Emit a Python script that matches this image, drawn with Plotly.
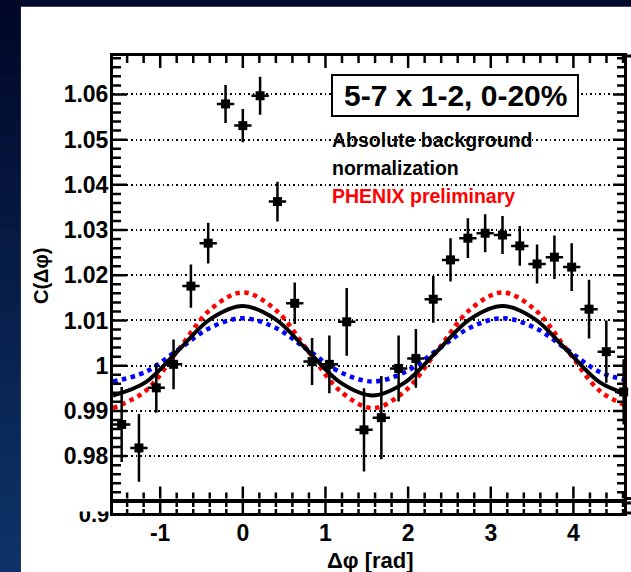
import plotly.graph_objects as go

W, H = 631, 572

# ---------------- data ----------------
dphi = [-1.466, -1.257, -1.047, -0.838, -0.628, -0.419, -0.209, 0.0, 0.209, 0.419,
        0.628, 0.838, 1.047, 1.257, 1.466, 1.676, 1.885, 2.094, 2.304, 2.513,
        2.723, 2.932, 3.142, 3.351, 3.560, 3.770, 3.979, 4.189, 4.398, 4.608]
corr = [0.9870, 0.9818, 0.9951, 1.0003, 1.0176, 1.0271, 1.0579, 1.0531, 1.0597, 1.0363,
        1.0138, 1.0009, 1.0003, 1.0097, 0.9858, 0.9885, 0.9994, 1.0016, 1.0147, 1.0234,
        1.0282, 1.0293, 1.0289, 1.0265, 1.0225, 1.0240, 1.0218, 1.0125, 1.0031, 0.9942]
corr_err = [0.0083, 0.0075, 0.0055, 0.0055, 0.0048, 0.0045, 0.0042, 0.0037, 0.0042, 0.0044,
            0.0046, 0.0052, 0.0064, 0.0075, 0.0092, 0.0092, 0.0073, 0.0065, 0.0052, 0.0048,
            0.0044, 0.0042, 0.0042, 0.0044, 0.0043, 0.0048, 0.0053, 0.0065, 0.0069, 0.0072]
bin_half_width = 0.105

curve_x = [-1.571, -1.178, -0.785, -0.393, 0.0, 0.393, 0.785, 1.178, 1.571,
           1.963, 2.356, 2.749, 3.142, 3.534, 3.927, 4.320, 4.712]
bkg_black = [0.9934, 0.9963, 1.0033, 1.0103, 1.0132, 1.0103, 1.0033, 0.9963, 0.9934,
             0.9963, 1.0033, 1.0103, 1.0132, 1.0103, 1.0033, 0.9963, 0.9934]
bkg_red = [0.9906, 0.9944, 1.0034, 1.0124, 1.0162, 1.0124, 1.0034, 0.9944, 0.9906,
           0.9944, 1.0034, 1.0124, 1.0162, 1.0124, 1.0034, 0.9944, 0.9906]
bkg_blue = [0.9965, 0.9986, 1.0035, 1.0084, 1.0105, 1.0084, 1.0035, 0.9986, 0.9965,
            0.9986, 1.0035, 1.0084, 1.0105, 1.0084, 1.0035, 0.9986, 0.9965]

y_tickvals = [0.98, 0.99, 1.00, 1.01, 1.02, 1.03, 1.04, 1.05, 1.06]
y_ticktext = ["0.98", "0.99", "1", "1.01", "1.02", "1.03", "1.04", "1.05", "1.06"]
x_tickvals = [-1, 0, 1, 2, 3, 4]
x_ticktext = ["-1", "0", "1", "2", "3", "4"]

# ---------------- helpers ----------------
def px(x):
    return x / W

def py(y):
    return 1 - y / H

FONT = "Liberation Sans, Arial, Helvetica, sans-serif"
x_range = [-1.5708, 4.612]
y_range = [0.97062, 1.0685]

# frame geometry (pixels)
FL, FR = 113, 624          # left / right of frame
MT, MB = 56, 498.5         # main panel top / bottom
LT, LB = 503, 513          # lower panel top / bottom

# minor tick positions (styling)
x_minor = [round(-1.4 + 0.2 * i, 3) for i in range(31)]
x_minor = [v for v in x_minor if abs(v - round(v)) > 1e-6]
y_minor = [round(0.972 + 0.002 * i, 4) for i in range(49)]
y_minor = [v for v in y_minor if all(abs(v - t) > 1e-6 for t in y_tickvals)]

fig = go.Figure()

# curves
fig.add_trace(go.Scatter(x=curve_x, y=bkg_red, mode="lines", line=dict(color="#ff0000", width=4.5, dash="dot", shape="spline"),
                         xaxis="x", yaxis="y", showlegend=False, hoverinfo="skip"))
fig.add_trace(go.Scatter(x=curve_x, y=bkg_blue, mode="lines", line=dict(color="#0000ff", width=4.5, dash="dot", shape="spline"),
                         xaxis="x", yaxis="y", showlegend=False, hoverinfo="skip"))
fig.add_trace(go.Scatter(x=curve_x, y=bkg_black, mode="lines", line=dict(color="black", width=4, shape="spline"),
                         xaxis="x", yaxis="y", showlegend=False, hoverinfo="skip"))
# data points
fig.add_trace(go.Scatter(x=dphi, y=corr, mode="markers",
                         marker=dict(symbol="square", size=9, color="black"),
                         error_y=dict(type="data", array=corr_err, color="black", thickness=2.5, width=0),
                         error_x=dict(type="constant", value=bin_half_width, color="black", thickness=2.5, width=0),
                         xaxis="x", yaxis="y", showlegend=False, cliponaxis=False))
# placeholder so the lower (broken-axis) panel is drawn
fig.add_trace(go.Scatter(x=[x_range[0]], y=[-5], mode="markers", marker=dict(opacity=0),
                         xaxis="x2", yaxis="y2", showlegend=False, hoverinfo="skip"))
# clipped "0.9" label of lower (broken) axis
fig.add_trace(go.Scatter(x=[0.948], y=[0.72], mode="text", text=["0.9"], textposition="middle left",
                         textfont=dict(family=FONT, size=22, color="black", weight="bold"),
                         xaxis="x3", yaxis="y3", showlegend=False, hoverinfo="skip", cliponaxis=True))

x_dom = [px(FL), px(FR)]

common_x = dict(range=x_range, domain=x_dom, showline=True, linewidth=3, linecolor="black",
                mirror=True, ticks="", tickmode="array", tickvals=x_tickvals, ticktext=x_ticktext,
                showgrid=False, zeroline=False, automargin=False, fixedrange=True)

fig.update_layout(
    width=W, height=H,
    margin=dict(l=0, r=0, t=0, b=0),
    paper_bgcolor="#020a2b",
    plot_bgcolor="white",
    xaxis=dict(**common_x, anchor="y", showticklabels=False),
    yaxis=dict(domain=[py(MB), py(MT)], range=y_range, anchor="x",
               showline=True, linewidth=3, linecolor="black", mirror=True, ticks="",
               tickmode="array", tickvals=y_tickvals, ticktext=y_ticktext,
               tickfont=dict(family=FONT, size=23, color="black", weight="bold"),
               ticklabelstandoff=-3,
               showgrid=True, gridcolor="black", gridwidth=1.5, griddash="1.5px,3px",
               zeroline=False, automargin=False, fixedrange=True),
    xaxis2=dict(**common_x, anchor="y2", showticklabels=True,
                tickfont=dict(family=FONT, size=23, color="black", weight="bold"),
                ticklabelstandoff=-3),
    yaxis2=dict(domain=[py(LB), py(LT)], range=[0, 1], anchor="x2", showline=True, linewidth=3,
                linecolor="black", mirror=True, ticks="", showticklabels=False, showgrid=False,
                zeroline=False, automargin=False, fixedrange=True),
    xaxis3=dict(domain=[px(60), px(112)], range=[0, 1], anchor="y3", visible=False, fixedrange=True),
    yaxis3=dict(domain=[py(530), py(511.5)], range=[0, 1], anchor="x3", visible=False, fixedrange=True),
)

shapes = []
# white slide panel
shapes.append(dict(type="rect", xref="paper", yref="paper", x0=px(20.7), x1=1, y0=0, y1=py(6.7),
                   fillcolor="white", line=dict(width=0), layer="below"))
# gradient of the dark left strip
N = 30
c0 = (1, 8, 40)
c1 = (13, 51, 104)
for i in range(N):
    t = i / (N - 1)
    col = "rgb({},{},{})".format(*[round(a + (b - a) * t) for a, b in zip(c0, c1)])
    shapes.append(dict(type="rect", xref="paper", yref="paper", x0=0, x1=px(20.7),
                       y0=py(H * (i + 1) / N) - 0.001, y1=py(H * i / N),
                       fillcolor=col, line=dict(width=0), layer="below"))

# ---- tick marks (drawn inward, ROOT style) ----
TK = dict(color="black", width=2.5)

def xtick(v, xref, y_from, length):
    # vertical tick at data x=v, starting at pixel row y_from, length in px (+ = downward)
    return dict(type="line", xref=xref, yref="paper", x0=v, x1=v,
                y0=py(y_from), y1=py(y_from + length), line=TK, layer="above")

def ytick(v, x_from, length):
    # horizontal tick at data y=v, starting at pixel column x_from, length in px (+ = rightward)
    return dict(type="line", xref="paper", yref="y", x0=px(x_from), x1=px(x_from + length),
                y0=v, y1=v, line=TK, layer="above")

for v in x_tickvals:
    shapes.append(xtick(v, "x", MB, -12))
    shapes.append(xtick(v, "x", MT, 12))
    shapes.append(xtick(v, "x2", LB, -10))
for v in x_minor:
    shapes.append(xtick(v, "x", MB, -6))
    shapes.append(xtick(v, "x", MT, 7))
    shapes.append(xtick(v, "x2", LB, -4))
    shapes.append(xtick(v, "x2", LT, 4))
for v in y_tickvals:
    shapes.append(ytick(v, FL, 14))
    shapes.append(ytick(v, FR, -11))
for v in y_minor:
    shapes.append(ytick(v, FL, 8))
    shapes.append(ytick(v, FR, -7))

# label box
shapes.append(dict(type="rect", xref="paper", yref="paper", x0=px(332), x1=px(578), y0=py(116), y1=py(75),
                   fillcolor="white", line=dict(color="black", width=2), layer="above"))
# frame lines extending to the image edge on the right
for yy in (MT, MB, LT, LB):
    shapes.append(dict(type="line", xref="paper", yref="paper", x0=px(FR), x1=1, y0=py(yy), y1=py(yy),
                       line=dict(color="black", width=3), layer="above"))
fig.update_layout(shapes=shapes)

ann = []
ann.append(dict(text="5-7 x 1-2, 0-20%", x=px(455), y=py(96), xref="paper", yref="paper",
                showarrow=False, xanchor="center", yanchor="middle",
                font=dict(family=FONT, size=30, color="black", weight="bold")))
ann.append(dict(text="Absolute background", x=px(330), y=py(140), xref="paper", yref="paper",
                showarrow=False, xanchor="left", yanchor="middle",
                font=dict(family=FONT, size=19.5, color="black", weight="bold")))
ann.append(dict(text="normalization", x=px(330), y=py(168), xref="paper", yref="paper",
                showarrow=False, xanchor="left", yanchor="middle",
                font=dict(family=FONT, size=19.5, color="black", weight="bold")))
ann.append(dict(text="PHENIX preliminary", x=px(330), y=py(196), xref="paper", yref="paper",
                showarrow=False, xanchor="left", yanchor="middle",
                font=dict(family=FONT, size=19.5, color="#ff0000", weight="bold")))
ann.append(dict(text="C(Δφ)", x=px(41), y=py(276), xref="paper", yref="paper", textangle=-90,
                showarrow=False, xanchor="center", yanchor="middle",
                font=dict(family=FONT, size=20, color="black", weight="bold")))
ann.append(dict(text="Δφ [rad]", x=px(370), y=py(560), xref="paper", yref="paper",
                showarrow=False, xanchor="center", yanchor="middle",
                font=dict(family=FONT, size=22, color="black", weight="bold")))
fig.update_layout(annotations=ann)

fig.write_html("out.html", config={"displayModeBar": False},
               post_script="document.body.style.margin='0px';document.body.style.overflow='hidden';")
